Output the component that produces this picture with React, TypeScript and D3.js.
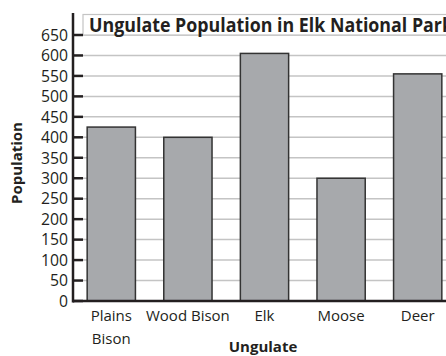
import React from "react";
import * as d3 from "d3";

const categories = ["Plains Bison", "Wood Bison", "Elk", "Moose", "Deer"];
const categoryLines = [["Plains", "Bison"], ["Wood Bison"], ["Elk"], ["Moose"], ["Deer"]];
const values = [425, 400, 605, 300, 555];
const yTicks = [0, 50, 100, 150, 200, 250, 300, 350, 400, 450, 500, 550, 600, 650];
const title = "Ungulate Population in Elk National Park";
const xTitle = "Ungulate";
const yTitle = "Population";

const W = 446;
const H = 356;
const axisX = 73;
const y0 = 301;
const font = "'Open Sans', sans-serif";

export default function App() {
  const x = d3
    .scaleBand<string>()
    .domain(categories)
    .range([axisX, 456])
    .paddingInner(0.37)
    .paddingOuter(0.185);
  const y = d3.scaleLinear().domain([0, 650]).range([y0, 35]);

  return (
    <svg
      width={W}
      height={H}
      style={{ position: "absolute", left: 0, top: 0, background: "#fff" }}
    >
      {/* gridlines */}
      {yTicks
        .filter((t) => t > 0)
        .map((t) => (
          <line
            key={"g" + t}
            x1={axisX + 10}
            x2={W}
            y1={y(t)}
            y2={y(t)}
            stroke="#c4c4c4"
            strokeWidth={1.5}
          />
        ))}
      {/* title box */}
      <rect x={axisX + 10} y={14.5} width={W - axisX} height={y(650) - 14.5} fill="#fff" stroke="#c4c4c4" strokeWidth={1.2} />
      <text
        x={89}
        y={32}
        fontFamily={font}
        fontWeight="bold"
        fontSize={19}
        fill="#231f20"
        textLength={364}
        lengthAdjust="spacingAndGlyphs"
      >
        {title}
      </text>
      {/* bars */}
      {categories.map((c, i) => (
        <rect
          key={c}
          x={x(c)!}
          y={y(values[i])}
          width={x.bandwidth()}
          height={y0 - y(values[i])}
          fill="#a7a9ac"
          stroke="#333"
          strokeWidth={1.5}
        />
      ))}
      {/* y ticks */}
      {yTicks.map((t) => (
        <g key={"t" + t}>
          <line x1={axisX} x2={axisX + 10} y1={y(t)} y2={y(t)} stroke="#231f20" strokeWidth={2.5} />
          <text
            x={68}
            y={y(t)}
            dy="0.36em"
            textAnchor="end"
            fontFamily={font}
            fontSize={16}
            fill="#231f20"
            textLength={t >= 100 ? 27 : t >= 10 ? 18 : 9}
            lengthAdjust="spacingAndGlyphs"
          >
            {t}
          </text>
        </g>
      ))}
      {/* axes */}
      <line x1={axisX} x2={axisX} y1={13} y2={y0 + 1.5} stroke="#231f20" strokeWidth={2.5} />
      <line x1={axisX} x2={W} y1={y0} y2={y0} stroke="#231f20" strokeWidth={2.5} />
      {/* x labels */}
      {categories.map((c, i) => (
        <text
          key={"l" + c}
          x={x(c)! + x.bandwidth() / 2}
          y={321}
          textAnchor="middle"
          fontFamily={font}
          fontSize={15}
          fill="#231f20"
        >
          {categoryLines[i].map((ln, j) => (
            <tspan key={j} x={x(c)! + x.bandwidth() / 2} dy={j === 0 ? 0 : 23}>
              {ln}
            </tspan>
          ))}
        </text>
      ))}
      <text
        x={263}
        y={352}
        textAnchor="middle"
        fontFamily={font}
        fontWeight="bold"
        fontSize={15}
        fill="#231f20"
      >
        {xTitle}
      </text>
      <text
        transform={`translate(22,163) rotate(-90)`}
        textAnchor="middle"
        fontFamily={font}
        fontWeight="bold"
        fontSize={15}
        fill="#231f20"
      >
        {yTitle}
      </text>
    </svg>
  );
}
